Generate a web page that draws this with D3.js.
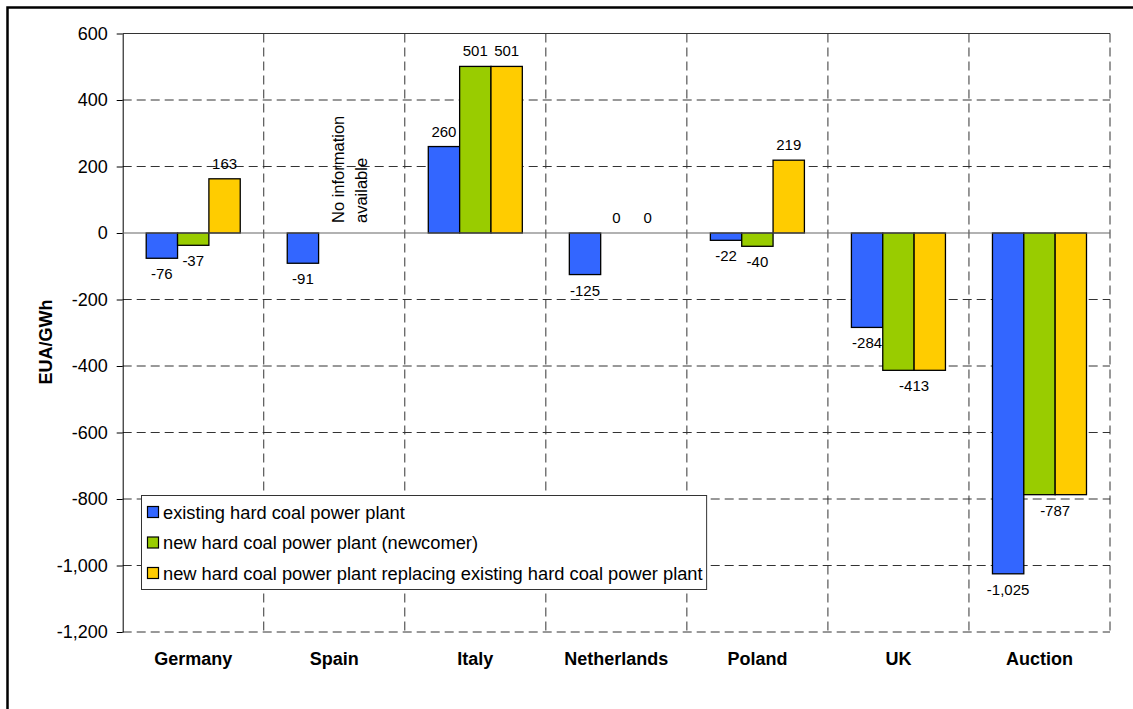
<!DOCTYPE html>
<html>
<head>
<meta charset="utf-8">
<script src="https://cdn.jsdelivr.net/npm/d3@7"></script>
<style>
  body { margin: 0; background: #fff; }
  svg { display: block; font-family: Arial, "Liberation Sans", sans-serif; }
</style>
</head>
<body>
<div id="chart"></div>
<script>
// Data
const categories = ["Germany", "Spain", "Italy", "Netherlands", "Poland", "UK", "Auction"];
const seriesNames = [
  "existing hard coal power plant",
  "new hard coal power plant (newcomer)",
  "new hard coal power plant replacing existing hard coal power plant"
];
const existing = [-76, -91, 260, -125, -22, -284, -1025];
const newcomer = [-37, null, 501, 0, -40, -413, -787];
const replacing = [163, null, 501, 0, 219, -413, -787];
const yTicks = [600, 400, 200, 0, -200, -400, -600, -800, -1000, -1200];
// categories where the two equal new-plant bars share a single label
const sharedLabel = ["UK", "Auction"];
const noInfoCategory = "Spain";
const noInfoLines = ["No information", "available"];

const colors = ["#3366FF", "#99CC00", "#FFCC00"];
const seriesValues = [existing, newcomer, replacing];

const width = 1133, height = 709;
const plot = { left: 122.7, right: 1110, top: 33.5, bottom: 632 };

const svg = d3.select("#chart").append("svg")
  .attr("width", width)
  .attr("height", height);

// outer frame (runs past the right and bottom edges)
svg.append("rect")
  .attr("x", 7.5).attr("y", 7.5)
  .attr("width", 1140).attr("height", 720)
  .attr("fill", "none")
  .attr("stroke", "#000")
  .attr("stroke-width", 2.5);

// Scales
const y = d3.scaleLinear().domain([-1200, 600]).range([plot.bottom, plot.top]);
const x0 = d3.scaleBand().domain(categories).range([plot.left, plot.right]).padding(0);
const x1 = d3.scaleBand().domain(d3.range(3)).range([0, x0.bandwidth()])
  .paddingInner(0).paddingOuter(0.75);

const fmt = d3.formatLocale({
  decimal: ".", thousands: ",", grouping: [3], currency: ["", ""], minus: "-"
}).format(",");

// Horizontal gridlines
svg.append("g").selectAll("line")
  .data(yTicks.filter(d => d !== 0))
  .join("line")
  .attr("x1", plot.left).attr("x2", plot.right)
  .attr("y1", d => y(d)).attr("y2", d => y(d))
  .attr("stroke", "#333")
  .attr("stroke-width", 1)
  .attr("stroke-dasharray", d => d === 600 ? null : "9,5");

// Vertical dividers
const dividers = categories.slice(1).map(c => x0(c)).concat([plot.right]);
svg.append("g").selectAll("line")
  .data(dividers)
  .join("line")
  .attr("x1", d => d).attr("x2", d => d)
  .attr("y1", plot.top).attr("y2", plot.bottom)
  .attr("stroke", "#333")
  .attr("stroke-width", 1)
  .attr("stroke-dasharray", "9,5");

// Y axis
const yAxis = svg.append("g")
  .attr("transform", `translate(${plot.left},0)`)
  .call(d3.axisLeft(y).tickValues(yTicks).tickSize(6).tickSizeOuter(0).tickPadding(9).tickFormat(fmt));
yAxis.select(".domain").attr("stroke", "#000");
yAxis.selectAll(".tick line").attr("stroke", "#000");
yAxis.selectAll(".tick text")
  .attr("font-size", "18px")
  .attr("font-family", "Arial, 'Liberation Sans', sans-serif")
  .attr("fill", "#000");

// Bars
const barData = [];
categories.forEach((c, i) => {
  seriesValues.forEach((vals, s) => {
    if (vals[i] !== null) barData.push({ cat: c, s, v: vals[i] });
  });
});

svg.append("g").selectAll("rect")
  .data(barData.filter(d => d.v !== 0))
  .join("rect")
  .attr("x", d => x0(d.cat) + x1(d.s))
  .attr("width", x1.bandwidth())
  .attr("y", d => y(Math.max(0, d.v)))
  .attr("height", d => Math.abs(y(d.v) - y(0)))
  .attr("fill", d => colors[d.s])
  .attr("stroke", "#000")
  .attr("stroke-width", 1.3);

// Zero line
svg.append("line")
  .attr("x1", plot.left).attr("x2", plot.right)
  .attr("y1", y(0)).attr("y2", y(0))
  .attr("stroke", "#666")
  .attr("stroke-width", 1.2);

// Data labels
const labelData = barData.filter(d => !(sharedLabel.includes(d.cat) && d.s === 1));
svg.append("g").selectAll("text")
  .data(labelData)
  .join("text")
  .attr("x", d => {
    if (sharedLabel.includes(d.cat) && d.s === 2) return x0(d.cat) + x1(2);
    return x0(d.cat) + x1(d.s) + x1.bandwidth() / 2;
  })
  .attr("y", d => d.v >= 0 ? y(d.v) - 10 : y(d.v) + 21)
  .attr("text-anchor", "middle")
  .attr("font-size", "15px")
  .attr("fill", "#000")
  .text(d => fmt(d.v));

// "No information available" note
const noteX = x0(noInfoCategory) + x1(1) + x1.bandwidth() / 2 + 10;
svg.append("g").selectAll("text")
  .data(noInfoLines)
  .join("text")
  .attr("transform", (d, i) => `translate(${noteX + i * 23},223) rotate(-90)`)
  .attr("font-size", "16.5px")
  .attr("fill", "#000")
  .text(d => d);

// Category labels
svg.append("g").selectAll("text")
  .data(categories)
  .join("text")
  .attr("x", d => x0(d) + x0.bandwidth() / 2)
  .attr("y", 665)
  .attr("text-anchor", "middle")
  .attr("font-size", "18px")
  .attr("font-weight", "bold")
  .attr("fill", "#000")
  .text(d => d);

// Y title
svg.append("text")
  .attr("transform", "translate(51.5,342) rotate(-90)")
  .attr("text-anchor", "middle")
  .attr("font-size", "18px")
  .attr("font-weight", "bold")
  .attr("fill", "#000")
  .text("EUA/GWh");

// Legend
const legend = svg.append("g");
const legendBox = legend.append("rect")
  .attr("x", 141.5).attr("y", 495.5)
  .attr("height", 94)
  .attr("fill", "#fff")
  .attr("stroke", "#333")
  .attr("stroke-width", 1);

const rowY = [512, 542.5, 573];
const items = legend.selectAll("g.item")
  .data(seriesNames)
  .join("g")
  .attr("class", "item");

items.append("rect")
  .attr("x", 147.5)
  .attr("y", (d, i) => rowY[i] - 5.5)
  .attr("width", 11).attr("height", 11)
  .attr("fill", (d, i) => colors[i])
  .attr("stroke", "#000")
  .attr("stroke-width", 1.2);

const legendText = items.append("text")
  .attr("x", 163)
  .attr("y", (d, i) => rowY[i] + 6.5)
  .attr("font-size", "18.3px")
  .attr("fill", "#000")
  .text(d => d);

const maxLen = d3.max(legendText.nodes(), n => n.getComputedTextLength());
legendBox.attr("width", 163 + maxLen + 4 - 141.5);
</script>
</body>
</html>
